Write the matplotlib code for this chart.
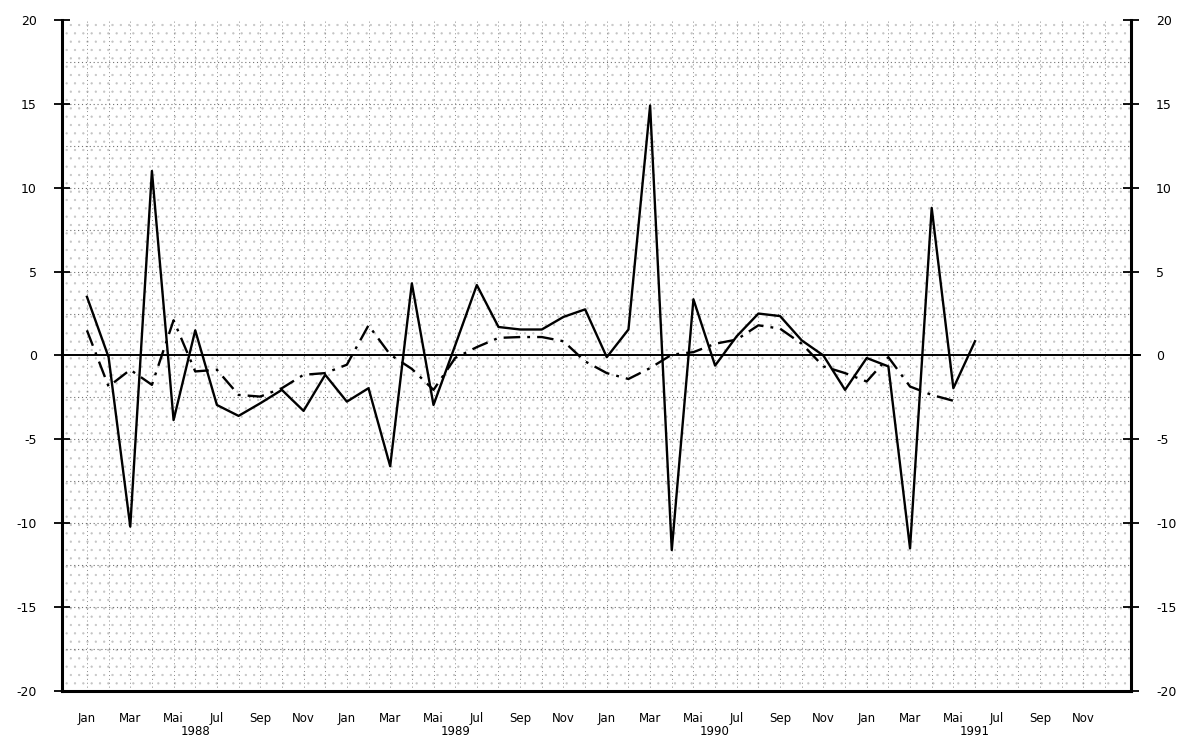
import matplotlib.pyplot as plt
from matplotlib.patches import Rectangle
import numpy as np

# monthly values, Jan 1988 .. Jun 1991
solid = [3.5, -0.1, -10.2, 11.0, -3.85, 1.5, -2.95, -3.6, -2.85, -2.05, -3.3, -1.15,
         -2.75, -1.95, -6.6, 4.3, -2.95, 0.6, 4.2, 1.7, 1.55, 1.55, 2.3, 2.75,
         -0.1, 1.55, 14.9, -11.6, 3.35, -0.6, 1.15, 2.5, 2.35, 0.9, 0.0, -2.05,
         -0.15, -0.65, -11.5, 8.8, -1.95, 0.85]
# Jan 1988 .. May 1991
dashed = [1.5, -1.85, -0.85, -1.75, 2.1, -0.95, -0.85, -2.35, -2.45, -1.95, -1.15, -1.05,
          -0.55, 1.8, 0.05, -0.8, -2.05, -0.15, 0.5, 1.05, 1.1, 1.1, 0.85, -0.35,
          -1.05, -1.4, -0.75, 0.05, 0.2, 0.7, 0.95, 1.8, 1.6, 0.7, -0.65, -1.05,
          -1.55, -0.1, -1.85, -2.35, -2.7]

months = ["Jan", "Mar", "Mai", "Jul", "Sep", "Nov"]
years = ["1988", "1989", "1990", "1991"]
yticks = [-20, -15, -10, -5, 0, 5, 10, 15, 20]

fig = plt.figure(figsize=(11.86, 7.38), dpi=100)
ax = fig.add_axes([0.0523, 0.0637, 0.9013, 0.9092])

# stippled background
plt.rcParams['hatch.linewidth'] = 0.4
bg = Rectangle((0, 0), 1, 1, transform=ax.transAxes, facecolor="white",
               edgecolor="#c4c4c4", hatch="..", linewidth=0, zorder=0)
ax.add_patch(bg)

x_solid = np.arange(len(solid))
x_dash = np.arange(len(dashed))

ax.axhline(0, color="black", linewidth=1.4, zorder=2, clip_on=False, xmax=1.008)
ax.plot(x_dash, dashed, color="black", linewidth=1.7, linestyle=(0, (7, 3, 1.2, 3)), zorder=3)
ax.plot(x_solid, solid, color="black", linewidth=1.7, zorder=4)

ax.set_xlim(-1.15, 48.2)
ax.set_ylim(-20, 20)

# grid
for m in range(0, 48):
    ax.axvline(m, color="#8a8a8a", linewidth=0.7, linestyle=(0, (1, 3)), zorder=1)
for v in np.arange(-17.5, 20, 2.5):
    if v != 0:
        ax.axhline(v, color="#707070", linewidth=0.8, linestyle=(0, (1, 2.5)), zorder=1)

# x labels
tick_pos = np.arange(0, 48, 2)
ax.set_xticks(tick_pos)
ax.set_xticklabels(months * 4, fontsize=8.5)
ax.tick_params(axis="x", length=0, pad=15)
for i, yr in enumerate(years):
    ax.text(12 * i + 5, -22.4, yr, ha="center", va="center", fontsize=8.5)

ax.set_yticks(yticks)
ax.set_yticklabels([str(v) for v in yticks], fontsize=9)
ax.tick_params(axis="y", direction="inout", length=12, width=1.3, pad=12,
               left=True, right=True, labelleft=True, labelright=True)

ax.spines["top"].set_visible(False)
for s in ["left", "right", "bottom"]:
    ax.spines[s].set_linewidth(2.2)

fig.savefig("out.png", dpi=100)
